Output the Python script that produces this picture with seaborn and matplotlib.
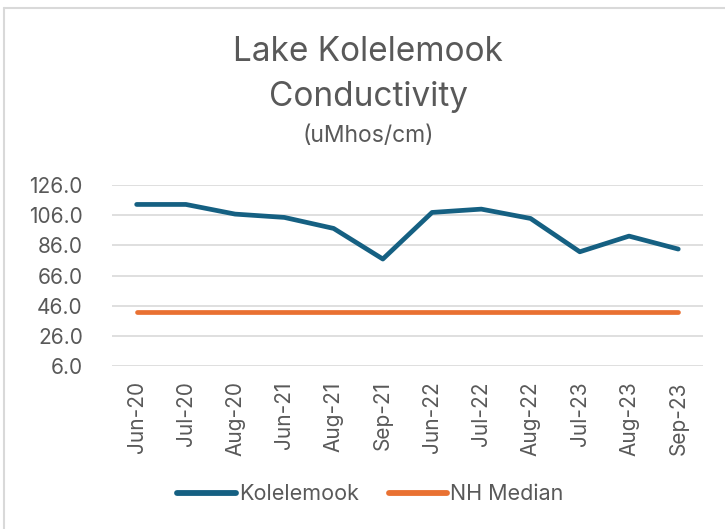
import pandas as pd
import numpy as np
import matplotlib.pyplot as plt
import seaborn as sns
from matplotlib.lines import Line2D

months = ['Jun-20', 'Jul-20', 'Aug-20', 'Jun-21', 'Aug-21', 'Sep-21',
          'Jun-22', 'Jul-22', 'Aug-22', 'Jul-23', 'Aug-23', 'Sep-23']
kolelemook = [113.2, 113.2, 106.8, 104.6, 97.3, 77.0,
              107.9, 110.1, 103.9, 81.8, 92.2, 83.6]
nh_median = [42.0] * 12
yticks = [6.0, 26.0, 46.0, 66.0, 86.0, 106.0, 126.0]

sns.set_style('white')
plt.rcParams['font.family'] = ['Inter', 'DejaVu Sans']

df = pd.DataFrame({'Value': kolelemook + nh_median,
                   'Series': ['Kolelemook'] * 12 + ['NH Median'] * 12})
df['x'] = list(range(12)) * 2

colors = ['#156082', '#E97132']
grey = '#595959'

fig = plt.figure(figsize=(7.25, 5.29), dpi=100)
ax = fig.add_axes([0.1545, 0.308, 0.815, 0.342])

sns.lineplot(data=df, x='x', y='Value', hue='Series', palette=colors,
             linewidth=3.4, solid_capstyle='round', ax=ax, legend=False)

ax.set_xlim(-0.5, 11.5)
ax.set_ylim(6, 126)
ax.set_yticks(yticks)
ax.set_yticklabels([f'{v:.1f}' for v in yticks], fontsize=15, color=grey)
ax.set_xticks(range(12))
ax.set_xticklabels(months, rotation=90, fontsize=15, color=grey)
ax.tick_params(axis='y', length=0, pad=21)
ax.tick_params(axis='x', length=0, pad=11)
ax.yaxis.grid(True, color='#d9d9d9', linewidth=1.2)
for s in ax.spines.values():
    s.set_visible(False)
ax.set_xlabel('')
ax.set_ylabel('')

fig.text(0.508, 0.902, 'Lake Kolelemook', ha='center', va='center',
         fontsize=24, color=grey)
fig.text(0.508, 0.817, 'Conductivity', ha='center', va='center',
         fontsize=24, color=grey)
fig.text(0.508, 0.743, '(uMhos/cm)', ha='center', va='center',
         fontsize=16.5, color=grey)

handles = [Line2D([], [], color=c, lw=4.2, solid_capstyle='round') for c in colors]
fig.legend(handles, ['Kolelemook', 'NH Median'], loc='center',
           bbox_to_anchor=(0.511, 0.066), ncol=2, frameon=False,
           fontsize=15.5, labelcolor=grey, handlelength=2.7,
           handletextpad=0.15, columnspacing=1.4)

# chart border (left and top edges visible in the crop)
fig.add_artist(Line2D([0.005, 0.005], [0.0, 0.985], color='#d9d9d9',
                      lw=1.5, transform=fig.transFigure))
fig.add_artist(Line2D([0.005, 1.0], [0.985, 0.985], color='#d9d9d9',
                      lw=1.5, transform=fig.transFigure))

fig.savefig('out.png', dpi=100)
